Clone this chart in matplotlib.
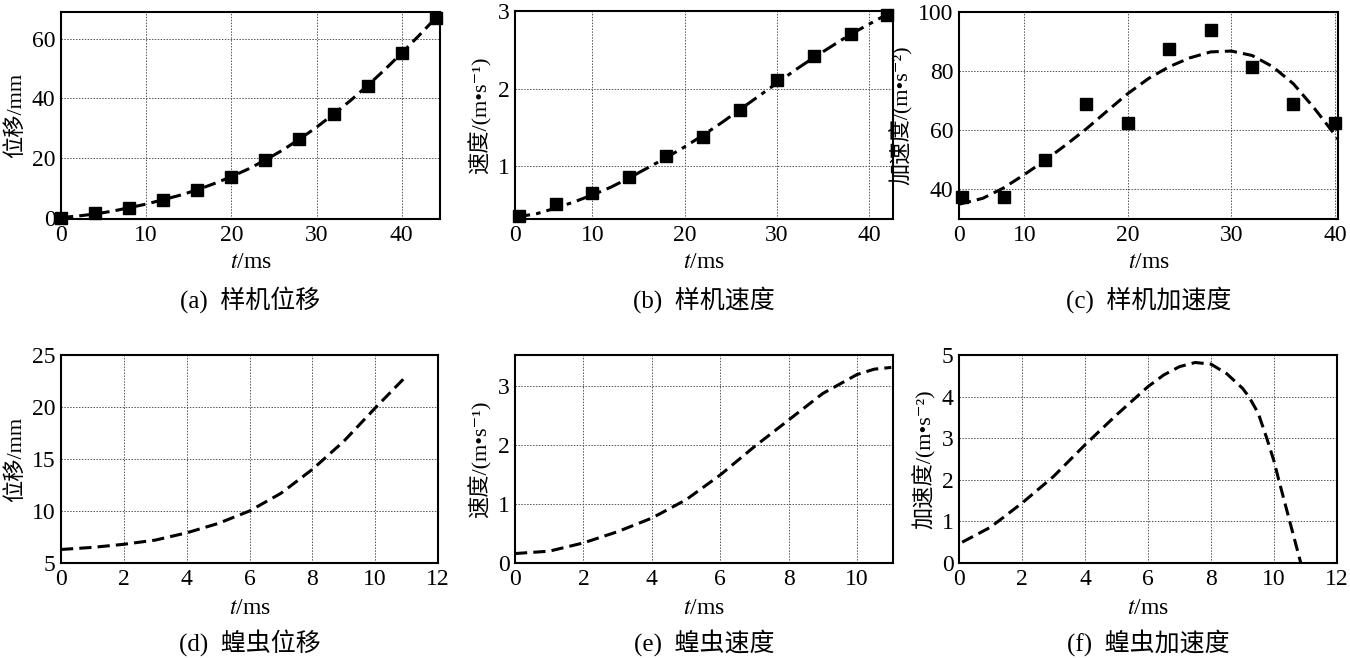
import numpy as np
import matplotlib
matplotlib.use("Agg")
import matplotlib.pyplot as plt

plt.rcParams['font.family'] = ['Liberation Serif', 'Noto Sans CJK SC', 'DejaVu Serif']
plt.rcParams['mathtext.fontset'] = 'stix'

# (a) prototype displacement
a_t = [0, 4, 8, 12, 16, 20, 24, 28, 32, 36, 40, 44]
a_pts = [0, 1.5, 3.3, 5.9, 9.4, 13.7, 19.2, 26.2, 34.6, 44.3, 55.2, 66.9]
a_line_t = [0, 2, 4, 6, 8, 10, 12, 14, 16, 18, 20, 22, 24, 26, 28, 30, 32, 34, 36, 38, 40, 42, 44]
a_line = [0, 0.5, 1.2, 2.1, 3.3, 4.5, 6.0, 7.5, 9.3, 11.4, 13.7, 16.3, 19.3, 22.6,
          26.3, 30.3, 34.7, 39.3, 44.3, 49.6, 55.2, 61.0, 67.0]

# (b) prototype velocity
b_t = [2, 6, 10, 14, 18, 22, 26, 30, 34, 38, 42]
b_pts = [0.36, 0.51, 0.66, 0.86, 1.13, 1.38, 1.73, 2.11, 2.42, 2.70, 2.95]
b_line_t = [1.6, 2, 4, 6, 8, 10, 12, 14, 16, 18, 20, 22, 24, 26, 28, 30, 32, 34, 36, 38, 40, 42]
b_line = [0.34, 0.35, 0.39, 0.46, 0.54, 0.63, 0.73, 0.85, 0.98, 1.11, 1.25, 1.40,
          1.56, 1.73, 1.90, 2.07, 2.24, 2.40, 2.55, 2.70, 2.83, 2.96]

# (c) prototype acceleration
c_t = [4, 8, 12, 16, 20, 24, 28, 32, 36, 40]
c_pts = [37.4, 37.4, 50.0, 69.0, 62.4, 87.6, 94.0, 81.4, 69.0, 62.4]
c_line_t = [3.7, 6, 8, 10, 12, 14, 16, 18, 20, 22, 24, 26, 28, 30, 32, 34, 36, 38, 40, 40.3]
c_line = [35.0, 37.0, 40.5, 45.0, 49.8, 55.0, 60.5, 66.5, 72.4, 77.5, 81.5, 84.5,
          86.5, 86.8, 85.3, 81.5, 75.7, 67.5, 58.5, 57.0]

# (d) locust displacement
d_t = [0, 1, 2, 3, 4, 5, 6, 7, 8, 9, 10, 11]
d_line = [6.3, 6.5, 6.8, 7.2, 7.9, 8.8, 10.0, 11.7, 14.0, 16.7, 19.9, 23.0]

# (e) locust velocity
e_t = [0, 1, 2, 3, 4, 5, 6, 7, 8, 9, 10, 10.5, 11]
e_line = [0.16, 0.20, 0.34, 0.53, 0.76, 1.07, 1.49, 1.97, 2.42, 2.87, 3.19, 3.28, 3.31]

# (f) locust acceleration
f_t = [0.1, 1, 2, 3, 4, 5, 6, 6.5, 7, 7.5, 8, 8.5, 9, 9.2, 9.5, 9.77, 10.0, 10.15, 10.5, 10.85]
f_line = [0.5, 0.86, 1.44, 2.08, 2.84, 3.56, 4.24, 4.52, 4.72, 4.82, 4.78, 4.55,
          4.2, 4.0, 3.6, 3.0, 2.45, 2.0, 1.0, 0.0]

W, H = 1350, 658
fig = plt.figure(figsize=(W / 100, H / 100), dpi=100)


def make_ax(l, r, t, b):
    ax = fig.add_axes([l / W, 1 - b / H, (r - l) / W, (b - t) / H])
    ax.grid(True, color='#555555', linestyle=(0, (1.5, 1.5)), linewidth=0.7)
    ax.set_axisbelow(True)
    for s in ax.spines.values():
        s.set_linewidth(1.5)
    ax.tick_params(length=0, labelsize=17, pad=4)
    return ax


lw = 2.2
dash = (0, (4, 2))
dashdot = (0, (5, 2, 1.5, 2))
ms = 9
ylfs = 16

axes_px = [(61, 440, 12, 219), (515, 893, 11, 219), (959, 1338, 12, 219),
           (61, 438, 355, 563), (515, 893, 355, 563), (959, 1337, 355, 563)]
axs = [make_ax(*p) for p in axes_px]

ax = axs[0]
ax.plot(a_line_t, a_line, color='black', lw=lw, linestyle=dash)
ax.plot(a_t, a_pts, 's', color='black', ms=ms, clip_on=False)
ax.set_xlim(0, 44.5)
ax.set_ylim(-0.5, 69)
ax.set_xticks([0, 10, 20, 30, 40])
ax.set_yticks([0, 20, 40, 60])
ax.set_ylabel('位移/mm', fontsize=ylfs)

ax = axs[1]
ax.plot(b_line_t, b_line, color='black', lw=lw, linestyle=dashdot)
ax.plot(b_t, b_pts, 's', color='black', ms=ms, clip_on=False)
ax.set_xlim(1.6, 42.6)
ax.set_ylim(0.32, 3.0)
ax.set_xticks([1.6, 10, 20, 30, 40], ['0', '10', '20', '30', '40'])
ax.set_yticks([1, 2, 3])
ax.set_ylabel('速度/(m•s⁻¹)', fontsize=ylfs)

ax = axs[2]
ax.plot(c_line_t, c_line, color='black', lw=lw, linestyle=dash)
ax.plot(c_t, c_pts, 's', color='black', ms=ms, clip_on=False)
ax.set_xlim(3.7, 40.3)
ax.set_ylim(30, 100)
ax.set_xticks([3.7, 10, 20, 30, 40], ['0', '10', '20', '30', '40'])
ax.set_yticks([40, 60, 80, 100])
ax.set_ylabel('加速度/(m•s⁻²)', fontsize=ylfs)

ax = axs[3]
ax.plot(d_t, d_line, color='black', lw=lw, linestyle=dash)
ax.set_xlim(0, 12)
ax.set_ylim(5, 25)
ax.set_xticks(range(0, 13, 2))
ax.set_yticks([5, 10, 15, 20, 25])
ax.set_ylabel('位移/mm', fontsize=ylfs)

ax = axs[4]
ax.plot(e_t, e_line, color='black', lw=lw, linestyle=dash)
ax.set_xlim(0, 11.05)
ax.set_ylim(0, 3.52)
ax.set_xticks(range(0, 11, 2))
ax.set_yticks([0, 1, 2, 3])
ax.set_ylabel('速度/(m•s⁻¹)', fontsize=ylfs)

ax = axs[5]
ax.plot(f_t, f_line, color='black', lw=lw, linestyle=dash)
ax.set_xlim(0, 12)
ax.set_ylim(0, 5)
ax.set_xticks(range(0, 13, 2))
ax.set_yticks(range(0, 6))
ax.set_ylabel('加速度/(m•s⁻²)', fontsize=ylfs)

captions = ['(a)  样机位移', '(b)  样机速度', '(c)  样机加速度',
            '(d)  蝗虫位移', '(e)  蝗虫速度', '(f)  蝗虫加速度']
for i, (l, r, t, b) in enumerate(axes_px):
    cx = (l + r) / 2 / W
    xl_y = 263 if i < 3 else 608
    cap_y = 300 if i < 3 else 643
    fig.text(cx, 1 - xl_y / H, '$t$/ms', ha='center', va='center', fontsize=17)
    fig.text(cx, 1 - cap_y / H, captions[i], ha='center', va='center', fontsize=18)

fig.savefig('out.png', dpi=100, facecolor='white')
